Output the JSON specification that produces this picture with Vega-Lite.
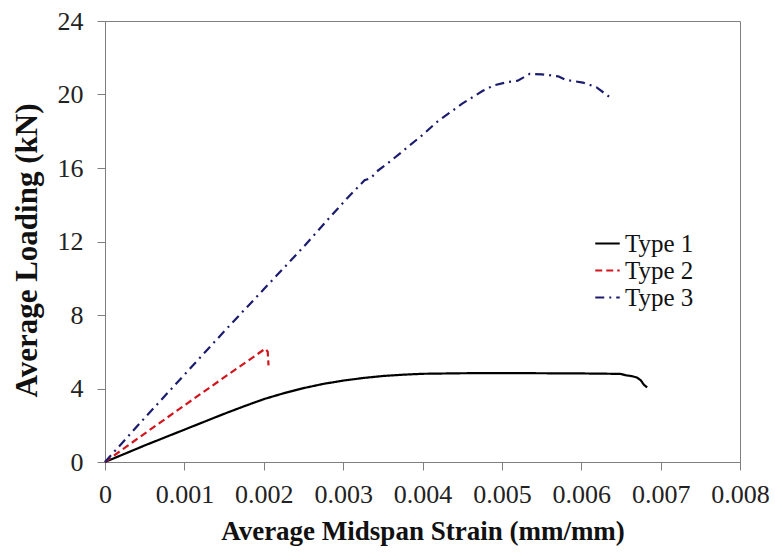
{
  "$schema": "https://vega.github.io/schema/vega-lite/v6.json",
  "autosize": "none",
  "width": 635,
  "height": 441,
  "padding": {"left": 105, "top": 21, "right": 35, "bottom": 92},
  "background": "white",
  "config": {
    "view": {"stroke": "#7f7f7f", "strokeWidth": 1},
    "font": "Liberation Serif"
  },
  "data": {
    "values": [
      {"series": "Type 1", "strain": 0, "load": 0},
      {"series": "Type 1", "strain": 0.00025, "load": 0.45},
      {"series": "Type 1", "strain": 0.0005, "load": 0.9},
      {"series": "Type 1", "strain": 0.00075, "load": 1.33},
      {"series": "Type 1", "strain": 0.001, "load": 1.76},
      {"series": "Type 1", "strain": 0.00125, "load": 2.19},
      {"series": "Type 1", "strain": 0.0015, "load": 2.62},
      {"series": "Type 1", "strain": 0.00175, "load": 3.03},
      {"series": "Type 1", "strain": 0.002, "load": 3.42},
      {"series": "Type 1", "strain": 0.00225, "load": 3.74},
      {"series": "Type 1", "strain": 0.0025, "load": 4.02},
      {"series": "Type 1", "strain": 0.00275, "load": 4.25},
      {"series": "Type 1", "strain": 0.003, "load": 4.43},
      {"series": "Type 1", "strain": 0.00325, "load": 4.57},
      {"series": "Type 1", "strain": 0.0035, "load": 4.68},
      {"series": "Type 1", "strain": 0.00375, "load": 4.75},
      {"series": "Type 1", "strain": 0.004, "load": 4.8},
      {"series": "Type 1", "strain": 0.0045, "load": 4.83},
      {"series": "Type 1", "strain": 0.005, "load": 4.84},
      {"series": "Type 1", "strain": 0.0055, "load": 4.83},
      {"series": "Type 1", "strain": 0.006, "load": 4.82},
      {"series": "Type 1", "strain": 0.0064, "load": 4.8},
      {"series": "Type 1", "strain": 0.0065, "load": 4.79},
      {"series": "Type 1", "strain": 0.00656, "load": 4.72},
      {"series": "Type 1", "strain": 0.00664, "load": 4.67},
      {"series": "Type 1", "strain": 0.0067, "load": 4.6},
      {"series": "Type 1", "strain": 0.00675, "load": 4.45},
      {"series": "Type 1", "strain": 0.00679, "load": 4.2},
      {"series": "Type 1", "strain": 0.00683, "load": 4.06},
      {"series": "Type 2", "strain": 0, "load": 0},
      {"series": "Type 2", "strain": 0.0005, "load": 1.55},
      {"series": "Type 2", "strain": 0.001, "load": 3.08},
      {"series": "Type 2", "strain": 0.0015, "load": 4.6},
      {"series": "Type 2", "strain": 0.00202, "load": 6.17},
      {"series": "Type 2", "strain": 0.00205, "load": 6.0},
      {"series": "Type 2", "strain": 0.00206, "load": 5.26},
      {"series": "Type 3", "strain": 0, "load": 0},
      {"series": "Type 3", "strain": 0.0005, "load": 2.4},
      {"series": "Type 3", "strain": 0.001, "load": 4.75},
      {"series": "Type 3", "strain": 0.0015, "load": 7.1},
      {"series": "Type 3", "strain": 0.002, "load": 9.4},
      {"series": "Type 3", "strain": 0.0025, "load": 11.7},
      {"series": "Type 3", "strain": 0.00283, "load": 13.3},
      {"series": "Type 3", "strain": 0.00306, "load": 14.4},
      {"series": "Type 3", "strain": 0.00327, "load": 15.33},
      {"series": "Type 3", "strain": 0.00335, "load": 15.45},
      {"series": "Type 3", "strain": 0.00342, "load": 15.8},
      {"series": "Type 3", "strain": 0.00356, "load": 16.25},
      {"series": "Type 3", "strain": 0.00369, "load": 16.7},
      {"series": "Type 3", "strain": 0.004, "load": 17.8},
      {"series": "Type 3", "strain": 0.00418, "load": 18.5},
      {"series": "Type 3", "strain": 0.0045, "load": 19.5},
      {"series": "Type 3", "strain": 0.00476, "load": 20.2},
      {"series": "Type 3", "strain": 0.0049, "load": 20.5},
      {"series": "Type 3", "strain": 0.00508, "load": 20.68},
      {"series": "Type 3", "strain": 0.0052, "load": 20.75},
      {"series": "Type 3", "strain": 0.00535, "load": 21.12},
      {"series": "Type 3", "strain": 0.0055, "load": 21.1},
      {"series": "Type 3", "strain": 0.00571, "load": 20.99},
      {"series": "Type 3", "strain": 0.0058, "load": 20.8},
      {"series": "Type 3", "strain": 0.00602, "load": 20.65},
      {"series": "Type 3", "strain": 0.00619, "load": 20.4},
      {"series": "Type 3", "strain": 0.00636, "load": 19.85}
    ]
  },
  "mark": {"type": "line", "strokeWidth": 2.2},
  "encoding": {
    "x": {
      "field": "strain", "type": "quantitative",
      "scale": {"domain": [0, 0.008], "nice": false, "zero": true},
      "axis": {
        "title": "Average Midspan Strain (mm/mm)",
        "values": [0, 0.001, 0.002, 0.003, 0.004, 0.005, 0.006, 0.007, 0.008],
        "format": "~g",
        "grid": false,
        "domainColor": "#7f7f7f", "tickColor": "#7f7f7f", "tickSize": 8,
        "labelFont": "Liberation Serif", "labelFontSize": 26, "labelColor": "#222",
        "labelPadding": 11, "labelFlush": false,
        "titleFont": "Liberation Serif", "titleFontSize": 27, "titleFontWeight": "bold", "titleColor": "#111",
        "titlePadding": 11
      }
    },
    "y": {
      "field": "load", "type": "quantitative",
      "scale": {"domain": [0, 24], "nice": false},
      "axis": {
        "title": "Average Loading (kN)",
        "values": [0, 4, 8, 12, 16, 20, 24],
        "grid": false,
        "domainColor": "#7f7f7f", "tickColor": "#7f7f7f", "tickSize": 8,
        "labelFont": "Liberation Serif", "labelFontSize": 26, "labelColor": "#222",
        "labelPadding": 14,
        "titleFont": "Liberation Serif", "titleFontSize": 31, "titleFontWeight": "bold", "titleColor": "#111",
        "titlePadding": 14, "titleY": 229
      }
    },
    "color": {
      "field": "series", "type": "nominal",
      "scale": {"domain": ["Type 1", "Type 2", "Type 3"], "range": ["#000000", "#d4141c", "#1c1c6e"]},
      "legend": {
        "title": null, "orient": "none", "legendX": 489, "legendY": 209,
        "symbolType": "stroke", "symbolSize": 600, "symbolStrokeWidth": 2.2,
        "labelFont": "Liberation Serif", "labelFontSize": 25, "labelColor": "#111",
        "labelOffset": 4, "rowPadding": 0
      }
    },
    "strokeDash": {
      "field": "series", "type": "nominal",
      "scale": {"domain": ["Type 1", "Type 2", "Type 3"], "range": [[1, 0], [7, 4], [9, 5, 2, 5]]},
      "legend": {
        "title": null, "orient": "none", "legendX": 489, "legendY": 209,
        "symbolType": "stroke", "symbolSize": 600, "symbolStrokeWidth": 2.2,
        "labelFont": "Liberation Serif", "labelFontSize": 25, "labelColor": "#111",
        "labelOffset": 4, "rowPadding": 0
      }
    }
  }
}
